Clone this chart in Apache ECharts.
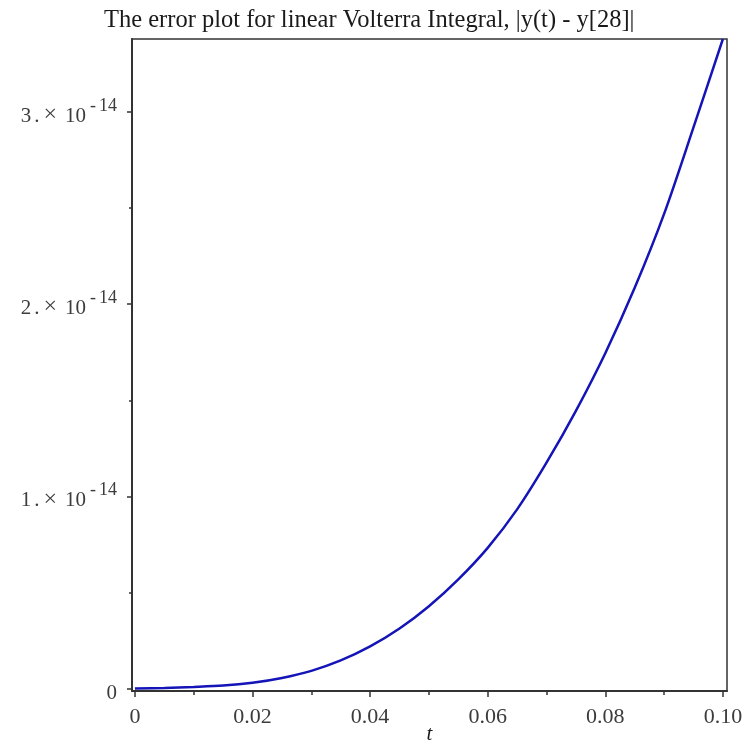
<!DOCTYPE html>
<html>
<head>
<meta charset="utf-8">
<script src="https://cdn.jsdelivr.net/npm/echarts@6/dist/echarts.min.js"></script>
<style>
  html, body { margin: 0; padding: 0; background: #ffffff; }
  #chart { width: 746px; height: 755px; }
</style>
</head>
<body>
<div id="chart"></div>
<script>
// Sample points of the error curve |y(t) - y[28]|
const tValues = [0, 0.005, 0.010, 0.015, 0.020, 0.025, 0.030, 0.035, 0.040, 0.045,
  0.050, 0.055, 0.060, 0.065, 0.070, 0.075, 0.080, 0.085, 0.090, 0.095, 0.100];
// error values, in units of 1e-14
const errValues = [0, 0.003, 0.008, 0.015, 0.030, 0.055, 0.092, 0.146, 0.219, 0.312,
  0.428, 0.568, 0.732, 0.932, 1.175, 1.445, 1.745, 2.085, 2.470, 2.920, 3.380];

const xMajorTicks = [0, 0.02, 0.04, 0.06, 0.08, 0.10];
const xTickLabels = ['0', '0.02', '0.04', '0.06', '0.08', '0.10'];
const xMinorTicks = [0.01, 0.03, 0.05, 0.07, 0.09];
const yMajorTicks = [0, 1, 2, 3];
const yMinorTicks = [0.5, 1.5, 2.5];
const yExponent = '14';

const titleText = 'The error plot for linear Volterra Integral, |y(t) - y[28]|';
const xName = 't';

const serif = '"Liberation Serif", "DejaVu Serif", serif';
const axisColor = '#333333';
const labelColor = '#3c3c3c';

const xRange = { min: -0.0005, max: 0.1007 };
const yRange = { min: -0.013, max: 3.38 };

const chart = echarts.init(document.getElementById('chart'));

const option = {
  backgroundColor: '#ffffff',
  animation: false,
  title: {
    text: titleText,
    left: 99,
    top: 3,
    textStyle: { fontFamily: serif, fontSize: 24.5, fontWeight: 'normal', color: '#1a1a1a' }
  },
  grid: {
    left: 132, right: 19, top: 39, bottom: 64,
    outerBoundsMode: 'none',
    show: true, borderColor: axisColor, borderWidth: 1.5, backgroundColor: 'transparent'
  },
  xAxis: [
    {
      type: 'value', min: xRange.min, max: xRange.max,
      name: xName, nameLocation: 'middle', nameGap: 33, nameMoveOverlap: false,
      nameTextStyle: { fontFamily: serif, fontSize: 21, fontStyle: 'italic', color: '#1a1a1a' },
      axisLine: { show: true, onZero: false, lineStyle: { color: axisColor, width: 2 } },
      axisTick: { show: true, customValues: xMajorTicks, length: 6, lineStyle: { color: axisColor, width: 1.5 } },
      axisLabel: {
        customValues: xMajorTicks, margin: 15,
        fontFamily: serif, fontSize: 22, color: labelColor,
        formatter: function (v) {
          const i = xMajorTicks.findIndex(function (m) { return Math.abs(m - v) < 1e-9; });
          return i >= 0 ? xTickLabels[i] : '';
        }
      },
      splitLine: { show: false }
    },
    {
      type: 'value', min: xRange.min, max: xRange.max, position: 'bottom',
      axisLine: { show: false, onZero: false },
      axisTick: { show: true, customValues: xMinorTicks, length: 4, lineStyle: { color: axisColor, width: 1.5 } },
      axisLabel: { show: false },
      splitLine: { show: false }
    }
  ],
  yAxis: [
    {
      type: 'value', min: yRange.min, max: yRange.max,
      axisLine: { show: true, onZero: false, lineStyle: { color: axisColor, width: 2 } },
      axisTick: { show: true, customValues: yMajorTicks, length: 5, lineStyle: { color: axisColor, width: 1.5 } },
      axisLabel: {
        customValues: yMajorTicks, margin: 15,
        fontFamily: serif, fontSize: 21, color: labelColor,
        formatter: function (v) {
          if (Math.abs(v) < 1e-9) return '{m|0}';
          return '{m|' + Math.round(v) + '}{d|.}{x|\u00d7}{m|10}{s|-}{e|' + yExponent + '}';
        },
        rich: {
          m: { fontFamily: serif, fontSize: 21, color: labelColor, lineHeight: 30, verticalAlign: 'bottom' },
          d: { fontFamily: serif, fontSize: 21, color: labelColor, lineHeight: 30, verticalAlign: 'bottom', padding: [0, 0, 0, 3] },
          x: { fontFamily: serif, fontSize: 24, color: labelColor, lineHeight: 30, verticalAlign: 'bottom', padding: [0, 8, 0, 4] },
          s: { fontFamily: serif, fontSize: 18, color: labelColor, lineHeight: 18, verticalAlign: 'top', padding: [0, 0, 0, 4] },
          e: { fontFamily: serif, fontSize: 18, color: labelColor, lineHeight: 18, verticalAlign: 'top', padding: [0, 0, 0, 3] }
        }
      },
      splitLine: { show: false }
    },
    {
      type: 'value', min: yRange.min, max: yRange.max, position: 'left',
      axisLine: { show: false, onZero: false },
      axisTick: { show: true, customValues: yMinorTicks, length: 3, lineStyle: { color: axisColor, width: 1.5 } },
      axisLabel: { show: false },
      splitLine: { show: false }
    }
  ],
  series: [
    {
      type: 'line',
      xAxisIndex: 0, yAxisIndex: 0,
      data: tValues.map(function (t, i) { return [t, errValues[i]]; }),
      smooth: 0.3,
      showSymbol: false,
      lineStyle: { color: '#1414b8', width: 2.5 },
      clip: true
    }
  ]
};

chart.setOption(option);
</script>
</body>
</html>
